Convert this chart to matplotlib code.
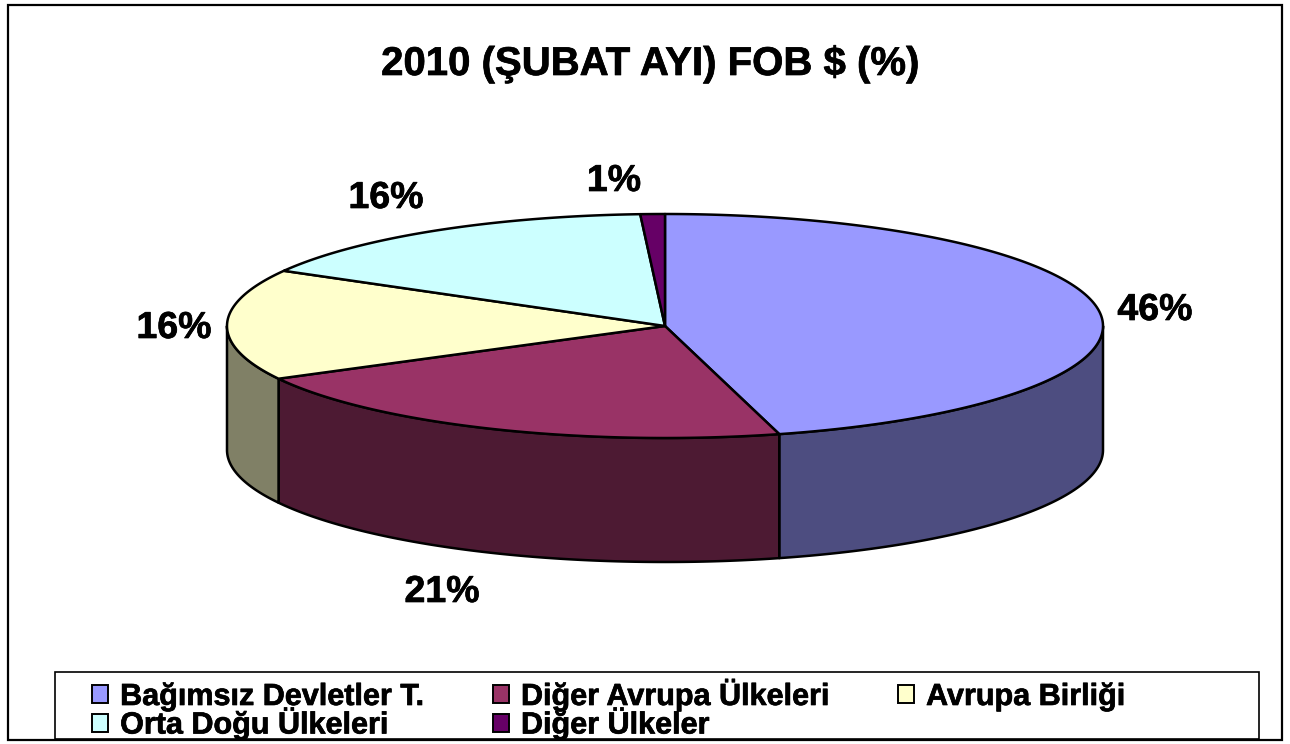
import numpy as np
import matplotlib
matplotlib.use('Agg')
import matplotlib.pyplot as plt
import matplotlib.patheffects as pe
from matplotlib.patches import Polygon, Rectangle, Patch

plt.rcParams['font.family'] = ['Liberation Sans', 'DejaVu Sans']
plt.rcParams['font.weight'] = 'bold'

title = '2010 (ŞUBAT AYI) FOB $ (%)'
categories = ['Bağımsız Devletler T.', 'Diğer Avrupa Ülkeleri', 'Avrupa Birliği',
              'Orta Doğu Ülkeleri', 'Diğer Ülkeler']
shares = [45.8, 21.4, 16.0, 15.9, 0.9]
top_colors = ['#9999FF', '#993366', '#FFFFCC', '#CCFFFF', '#660066']
side_colors = ['#4D4D80', '#4D1A33', '#808066', '#668080', '#330033']
label_pos = [(1155, 310), (442, 592), (174, 328), (386, 198), (614, 181)]

CX, CY, RX, RY, DEPTH = 665, 326, 438, 112, 124
heavy = [pe.withStroke(linewidth=0.5, foreground='black')]


def rim(t0, t1, drop=0):
    """타원 둘레 점 (t는 12시 방향부터 시계방향, 도)"""
    t = np.radians(np.linspace(t0, t1, max(int(abs(t1 - t0) * 2), 2)))
    return np.column_stack([CX + RX * np.sin(t), CY - RY * np.cos(t) + drop])


fig = plt.figure(figsize=(12.9, 7.44), dpi=100)
ax = fig.add_axes([0, 0, 1, 1])
ax.set_xlim(0, 1290)
ax.set_ylim(744, 0)
ax.axis('off')

# 바깥 테두리
ax.add_patch(Rectangle((8, 5), 1274, 735, fc='white', ec='black', lw=1.6))

edges = np.cumsum([0] + shares) * 3.6

# 옆면 (앞쪽 90~270도만 보임)
for i, color in enumerate(side_colors):
    t0, t1 = max(edges[i], 90), min(edges[i + 1], 270)
    if t1 <= t0:
        continue
    pts = np.vstack([rim(t0, t1), rim(t0, t1, DEPTH)[::-1]])
    ax.add_patch(Polygon(pts, closed=True, fc=color, ec='black', lw=1.8, joinstyle='round'))

# 윗면
for i, color in enumerate(top_colors):
    pts = np.vstack([[[CX, CY]], rim(edges[i], edges[i + 1])])
    ax.add_patch(Polygon(pts, closed=True, fc=color, ec='black', lw=1.8, joinstyle='round'))

for share, (x, y) in zip(shares, label_pos):
    ax.text(x, y, f'{round(share)}%', ha='center', va='center', fontsize=27, color='black',
            path_effects=heavy)

ax.text(650, 64, title, ha='center', va='center', fontsize=28.9, color='black', path_effects=heavy)

# 범례
ax.add_patch(Rectangle((55, 672), 1204, 67, fc='white', ec='black', lw=1.2, zorder=3))
order = [0, 3, 1, 4, 2]
handles = [Patch(fc=top_colors[i], ec='black', lw=1.4, label=categories[i]) for i in order]
leg = ax.legend(handles=handles, ncol=3, loc='upper left', bbox_to_anchor=(92, 678),
                bbox_transform=ax.transData, frameon=False, fontsize=22,
                borderpad=0, borderaxespad=0, handlelength=0.53, handleheight=0.53,
                handletextpad=0.39, columnspacing=2.27, labelspacing=-0.18)
leg.set_zorder(4)
for txt in leg.get_texts():
    txt.set_path_effects(heavy)

plt.savefig('out.png', dpi=100)
